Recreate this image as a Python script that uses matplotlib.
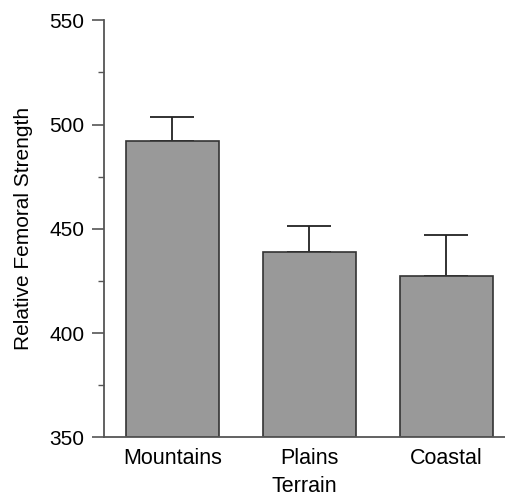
import matplotlib
matplotlib.use('Agg')
import matplotlib.pyplot as plt
from matplotlib.ticker import MultipleLocator

plt.rcParams['font.family'] = ['Liberation Sans', 'DejaVu Sans']

# Data
terrain = ['Mountains', 'Plains', 'Coastal']
strength = [492.2, 439.0, 427.4]
upper_err = [11.4, 12.3, 19.8]

fig = plt.figure(figsize=(5.05, 4.97), dpi=100)
ax = fig.add_axes([0.206, 0.120, 0.794, 0.839])

x = range(len(terrain))
ax.bar(x, [s - 350 for s in strength], bottom=350, width=0.68,
       color='#999999', edgecolor='#333333', linewidth=1.2, zorder=2)
ax.errorbar(x, strength, yerr=[[0] * len(terrain), upper_err], fmt='none',
            ecolor='#222222', elinewidth=1.3, capsize=15.5, capthick=1.3, zorder=1)

ax.set_ylim(350, 550)
ax.set_xlim(-0.5, 2.43)
ax.yaxis.set_major_locator(MultipleLocator(50))
ax.yaxis.set_minor_locator(MultipleLocator(25))
ax.set_xticks(list(x))
ax.set_xticklabels(terrain, fontsize=15.5)

for side in ['top', 'right']:
    ax.spines[side].set_visible(False)
for side in ['left', 'bottom']:
    ax.spines[side].set_color('#555555')
    ax.spines[side].set_linewidth(1.3)

ax.tick_params(axis='y', which='major', length=9, width=1.2, color='#555555',
               labelsize=15, pad=5)
ax.tick_params(axis='y', which='minor', length=4, width=1.0, color='#555555')
ax.tick_params(axis='x', length=0, pad=8)

ax.set_ylabel('Relative Femoral Strength', fontsize=15, labelpad=12)
ax.set_xlabel('Terrain', fontsize=15.5, labelpad=5)

plt.savefig('out.png', dpi=100)
plt.close()
